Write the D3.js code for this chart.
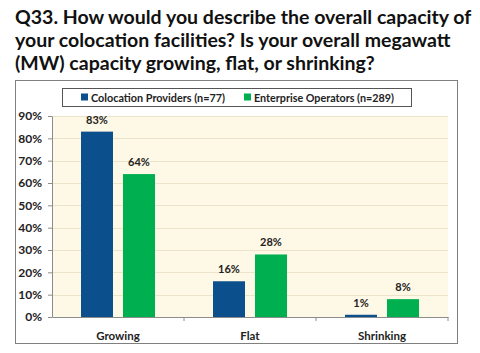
<!DOCTYPE html>
<html>
<head>
<meta charset="utf-8">
<script src="https://cdn.jsdelivr.net/npm/d3@7"></script>
<style>
  body { margin: 0; background: #fff; }
  text { font-family: Lato, "Open Sans", sans-serif; }
</style>
</head>
<body>
<div id="chart"></div>
<script>
const titleLines = [
    "Q33. How would you describe the overall capacity of",
    "your colocation facilities? Is your overall megawatt",
    "(MW) capacity growing, flat, or shrinking?"
];
const categories = ["Growing", "Flat", "Shrinking"];
const seriesNames = ["Colocation Providers (n=77)", "Enterprise Operators (n=289)"];
const colocation = [83, 16, 1];
const enterprise = [64, 28, 8];
const yTicks = [0, 10, 20, 30, 40, 50, 60, 70, 80, 90];
const colors = ["#0B4F8C", "#00B050"];

const W = 480, H = 353;
const svg = d3.select("#chart").append("svg")
    .attr("width", W)
    .attr("height", H);

// title
svg.append("g")
    .selectAll("text")
    .data(titleLines)
    .join("text")
        .attr("x", 15)
        .attr("y", (d, i) => 24 + i * 23)
        .style("font-size", "19.5px")
        .style("font-weight", "bold")
        .attr("fill", "#111")
        .text(d => d);

// outer frame
svg.append("rect")
    .attr("x", 15.5).attr("y", 80.5)
    .attr("width", 442).attr("height", 263)
    .attr("fill", "none")
    .attr("stroke", "#7f7f7f");

const margin = {left: 52, right: 448, top: 116, bottom: 317};

const x = d3.scaleBand()
    .domain(categories)
    .range([margin.left, margin.right]);

const y = d3.scaleLinear()
    .domain([0, 90])
    .range([margin.bottom, margin.top]);

// plot background
svg.append("rect")
    .attr("x", margin.left).attr("y", margin.top)
    .attr("width", margin.right - margin.left)
    .attr("height", margin.bottom - margin.top)
    .attr("fill", "#FEF8E6");

// grid
svg.append("g")
    .selectAll("line")
    .data(yTicks.slice(1))
    .join("line")
        .attr("x1", margin.left).attr("x2", margin.right)
        .attr("y1", d => Math.round(y(d)) + 0.5)
        .attr("y2", d => Math.round(y(d)) + 0.5)
        .attr("stroke", "#EDE3C8");

// bars
const barW = 32, gap = 10;
const xs = d3.scaleOrdinal().domain([0, 1])
    .range([(x.bandwidth() - 2 * barW - gap) / 2, (x.bandwidth() - 2 * barW - gap) / 2 + barW + gap]);

const series = [colocation, enterprise];
series.forEach((vals, s) => {
    const g = svg.append("g");
    g.selectAll("rect")
        .data(vals)
        .join("rect")
            .attr("x", (d, i) => x(categories[i]) + xs(s))
            .attr("y", d => y(d))
            .attr("width", barW)
            .attr("height", d => y(0) - y(d))
            .attr("fill", colors[s]);
    g.selectAll("text")
        .data(vals)
        .join("text")
            .attr("x", (d, i) => x(categories[i]) + xs(s) + barW / 2)
            .attr("y", d => y(d) - 8)
            .attr("text-anchor", "middle")
            .style("font-size", "11px")
            .style("font-weight", "bold")
            .attr("fill", "#222")
            .text(d => d + "%");
});

// y axis
const yAxis = svg.append("g")
    .attr("transform", `translate(${margin.left},0)`)
    .call(d3.axisLeft(y).tickValues(yTicks).tickFormat(d => d + "%").tickSize(4).tickSizeOuter(0));
yAxis.select(".domain").attr("stroke", "#8c8c8c");
yAxis.selectAll(".tick line").attr("stroke", "#8c8c8c");
yAxis.selectAll(".tick text")
    .attr("x", -10)
    .style("font-family", "Lato, sans-serif")
    .style("font-size", "12px")
    .style("font-weight", "bold")
    .attr("fill", "#222");

// x axis
const xAxis = svg.append("g")
    .attr("transform", `translate(0,${margin.bottom})`)
    .call(d3.axisBottom(x).tickSize(0).tickSizeOuter(0));
xAxis.select(".domain").attr("stroke", "#8c8c8c");
xAxis.selectAll(".tick text")
    .attr("dy", "1.75em")
    .style("font-family", "Lato, sans-serif")
    .style("font-size", "11.5px")
    .style("font-weight", "bold")
    .attr("fill", "#222");
xAxis.append("g")
    .selectAll("line")
    .data(categories)
    .join("line")
        .attr("x1", d => x(d) + x.bandwidth())
        .attr("x2", d => x(d) + x.bandwidth())
        .attr("y1", 0).attr("y2", 4)
        .attr("stroke", "#8c8c8c");

// legend
const legend = svg.append("g");
legend.append("rect")
    .attr("x", 62.5).attr("y", 88.5)
    .attr("width", 349).attr("height", 18)
    .attr("fill", "#fff")
    .attr("stroke", "#555");
const legendX = [81, 244];
const legendW = [134, 140];
const li = legend.selectAll(".li")
    .data(seriesNames)
    .join("g")
        .attr("transform", (d, i) => `translate(${legendX[i]},97.5)`);
li.append("rect")
    .attr("x", 0).attr("y", -4)
    .attr("width", 7).attr("height", 7)
    .attr("fill", (d, i) => colors[i]);
li.append("text")
    .attr("x", 10).attr("y", 4.5)
    .attr("textLength", (d, i) => legendW[i])
    .attr("lengthAdjust", "spacingAndGlyphs")
    .style("font-size", "11.5px")
    .style("font-weight", "bold")
    .attr("fill", "#222")
    .text(d => d);
</script>
</body>
</html>
